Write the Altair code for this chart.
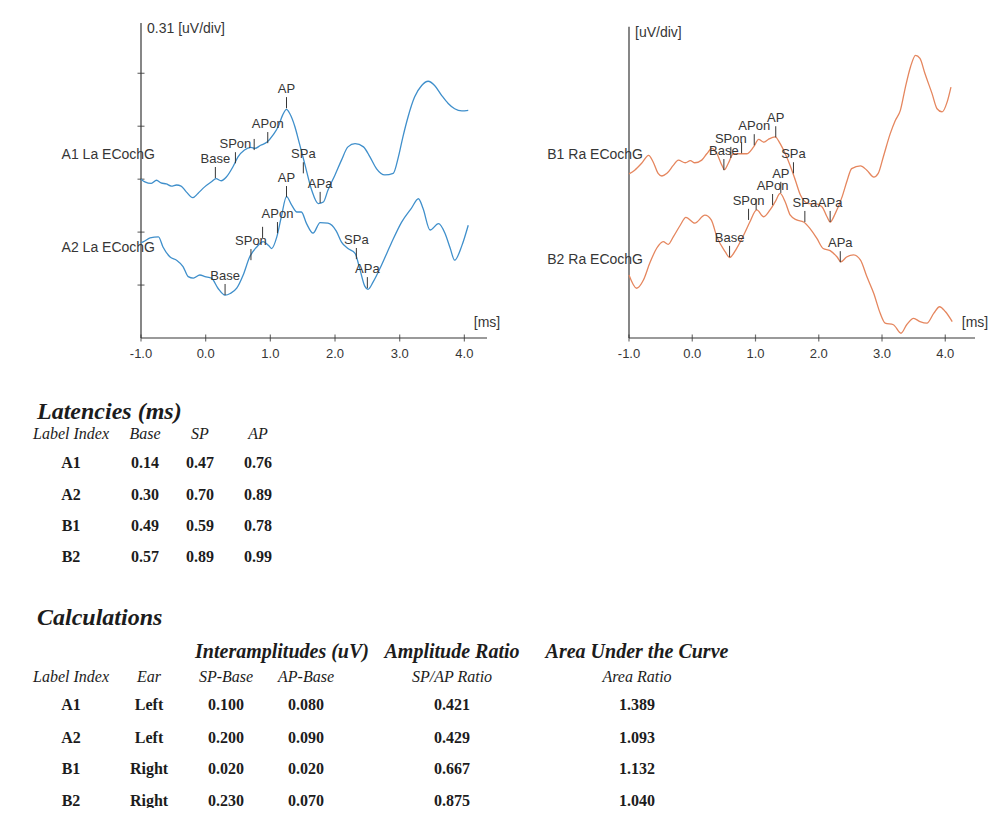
import altair as alt
import pandas as pd

# ---------------- waveform data: time (ms) and amplitude (divisions of 0.31 uV) ----------------
a1_ms = [-1.00, -0.94, -0.84, -0.76, -0.69, -0.61, -0.53, -0.45, -0.38, -0.30,
         -0.20, -0.12, -0.02, 0.09, 0.16, 0.24, 0.32, 0.42, 0.50, 0.60,
         0.70, 0.76, 0.85, 0.95, 1.04, 1.12, 1.19, 1.25, 1.30, 1.38,
         1.45, 1.53, 1.64, 1.74, 1.82, 1.89, 2.00, 2.10, 2.20, 2.31,
         2.44, 2.54, 2.64, 2.77, 2.90, 2.98, 3.05, 3.13, 3.23, 3.34,
         3.44, 3.54, 3.65, 3.75, 3.85, 3.96, 4.06]
a1_amp = [3.00, 2.95, 2.92, 2.98, 2.93, 2.91, 2.87, 2.89, 2.87, 2.76,
          2.65, 2.73, 2.85, 2.95, 3.01, 2.97, 3.04, 3.23, 3.42, 3.55,
          3.60, 3.58, 3.64, 3.70, 3.83, 3.99, 4.21, 4.32, 4.24, 3.99,
          3.67, 3.30, 2.79, 2.54, 2.57, 2.79, 3.08, 3.36, 3.61, 3.67,
          3.61, 3.42, 3.20, 3.08, 3.11, 3.42, 3.80, 4.18, 4.55, 4.77,
          4.85, 4.77, 4.58, 4.43, 4.33, 4.29, 4.30]

a2_ms = [-1.00, -0.96, -0.86, -0.73, -0.66, -0.55, -0.45, -0.35, -0.27, -0.19, -0.09,
         -0.01, 0.09, 0.19, 0.30, 0.38, 0.48, 0.58, 0.68, 0.79, 0.89,
         0.97, 1.02, 1.10, 1.17, 1.25, 1.33, 1.41, 1.48, 1.56, 1.66,
         1.77, 1.89, 2.02, 2.10, 2.20, 2.31, 2.38, 2.46, 2.51, 2.59,
         2.72, 2.87, 3.03, 3.18, 3.29, 3.36, 3.47, 3.60, 3.70, 3.78,
         3.85, 3.96, 4.06]
a2_amp = [1.80, 1.82, 1.89, 1.91, 1.72, 1.53, 1.47, 1.35, 1.16, 1.13, 1.19,
          1.16, 1.13, 0.94, 0.81, 0.84, 0.94, 1.19, 1.53, 1.72, 1.82,
          1.75, 1.69, 1.91, 2.29, 2.67, 2.51, 2.38, 2.38, 2.16, 1.98,
          2.18, 2.17, 2.02, 1.81, 1.69, 1.60, 1.32, 0.98, 0.92, 1.06,
          1.38, 1.79, 2.19, 2.45, 2.63, 2.45, 2.04, 2.16, 1.98, 1.70,
          1.47, 1.74, 2.13]

b1_ms = [-1.00, -0.91, -0.80, -0.69, -0.62, -0.54, -0.48, -0.40, -0.30, -0.22,
         -0.11, -0.03, 0.04, 0.15, 0.23, 0.31, 0.39, 0.47, 0.51, 0.57,
         0.65, 0.76, 0.86, 0.97, 1.05, 1.13, 1.20, 1.31, 1.39, 1.47,
         1.55, 1.63, 1.71, 1.84, 1.94, 2.05, 2.13, 2.18, 2.26, 2.37,
         2.45, 2.52, 2.66, 2.76, 2.87, 2.94, 3.02, 3.13, 3.21, 3.29,
         3.37, 3.45, 3.53, 3.60, 3.68, 3.79, 3.87, 3.95, 4.03, 4.09]
b1_amp = [3.10, 3.17, 3.30, 3.45, 3.33, 3.11, 3.06, 3.11, 3.26, 3.36,
          3.31, 3.35, 3.31, 3.36, 3.48, 3.58, 3.48, 3.26, 3.18, 3.30,
          3.48, 3.48, 3.48, 3.61, 3.75, 3.70, 3.75, 3.80, 3.67, 3.48,
          3.25, 2.98, 2.70, 2.54, 2.54, 2.48, 2.29, 2.19, 2.35, 2.67,
          2.98, 3.20, 3.25, 3.17, 3.04, 3.11, 3.42, 3.86, 4.11, 4.30,
          4.74, 5.12, 5.34, 5.28, 4.99, 4.62, 4.33, 4.27, 4.46, 4.74]

b2_ms = [-1.00, -0.88, -0.77, -0.67, -0.56, -0.46, -0.38, -0.30, -0.19, -0.10,
         0.04, 0.20, 0.30, 0.39, 0.52, 0.59, 0.70, 0.84, 0.91, 1.02,
         1.13, 1.23, 1.31, 1.39, 1.47, 1.55, 1.65, 1.76, 1.86, 1.97,
         2.07, 2.18, 2.29, 2.35, 2.44, 2.55, 2.66, 2.76, 2.87, 2.97,
         3.05, 3.18, 3.30, 3.39, 3.50, 3.60, 3.71, 3.82, 3.91, 4.00, 4.11]
b2_amp = [1.19, 0.94, 1.10, 1.42, 1.70, 1.82, 1.77, 1.91, 2.13, 2.28,
          2.17, 2.32, 2.23, 1.91, 1.63, 1.52, 1.69, 2.01, 2.19, 2.42,
          2.29, 2.42, 2.57, 2.73, 2.57, 2.32, 2.23, 2.19, 2.07, 1.88,
          1.69, 1.65, 1.53, 1.44, 1.53, 1.57, 1.47, 1.16, 0.84, 0.47,
          0.28, 0.25, 0.09, 0.25, 0.37, 0.31, 0.28, 0.47, 0.59, 0.50, 0.31]

# ---------------- peak markers ----------------
marker_labels = ["Base", "SPon", "", "APon", "AP", "SPa", "APa"]
a1_mk_ms = [0.15, 0.46, 0.75, 0.96, 1.25, 1.51, 1.77]
a1_mk_amp = [3.02, 3.30, 3.55, 3.68, 4.34, 3.11, 2.55]
a2_mk_ms = [0.30, 0.70, 0.88, 1.11, 1.25, 2.33, 2.50]
a2_mk_amp = [0.81, 1.47, 1.89, 1.98, 2.66, 1.49, 0.94]
b1_mk_ms = [0.50, 0.61, 0.78, 0.98, 1.32, 1.60, 2.18]
b1_mk_amp = [3.17, 3.40, 3.49, 3.64, 3.79, 3.11, 2.19]
b2_mk_ms = [0.59, 0.89, 1.01, 1.27, 1.40, 1.78, 2.34]
b2_mk_amp = [1.53, 2.23, 2.42, 2.51, 2.74, 2.19, 1.43]

trace_names = ["A1 La ECochG", "A2 La ECochG", "B1 Ra ECochG", "B2 Ra ECochG"]
trace_label_amp = [3.45, 1.70, 3.45, 1.47]

x_ticks = [-1.0, 0.0, 1.0, 2.0, 3.0, 4.0]
x_tick_labels = ["-1.0", "0.0", "1.0", "2.0", "3.0", "4.0"]
left_y_ticks = [1, 2, 3, 4, 5]

# ---------------- tables ----------------
row_ids = ["A1", "A2", "B1", "B2"]
lat_headers = ["Label Index", "Base", "SP", "AP"]
lat_base = [0.14, 0.30, 0.49, 0.57]
lat_sp = [0.47, 0.70, 0.59, 0.89]
lat_ap = [0.76, 0.89, 0.78, 0.99]

calc_group_headers = ["Interamplitudes (uV)", "Amplitude Ratio", "Area Under the Curve"]
calc_headers = ["Label Index", "Ear", "SP-Base", "AP-Base", "SP/AP Ratio", "Area Ratio"]
calc_ear = ["Left", "Left", "Right", "Right"]
calc_sp_base = [0.100, 0.200, 0.020, 0.230]
calc_ap_base = [0.080, 0.090, 0.020, 0.070]
calc_sp_ap = [0.421, 0.429, 0.667, 0.875]
calc_area = [1.389, 1.093, 1.132, 1.040]

# ---------------- styling ----------------
BLUE = "#3f8fcb"
ORANGE = "#e5865e"
INK = "#363636"
TXT = "#1c1c1c"
SANS = "Liberation Sans"
SERIF = "Liberation Serif"
TICK_LEN = 0.21  # marker tick length in divisions

layers = []


def panel(xdom, xrange, ytop, color, unit_text, traces, yticks):
    xs = alt.Scale(domain=xdom, range=xrange, nice=False, zero=False)
    ys = alt.Scale(domain=[0, 5.95], range=[330, 15], nice=False, zero=False)

    def X(f):
        return alt.X(f, type="quantitative", scale=xs, axis=None)

    def Y(f):
        return alt.Y(f, type="quantitative", scale=ys, axis=None)

    out = []
    frames, mframes, lframes = [], [], []
    for name, ms, amp, mks, mka, lab_amp in traces:
        frames.append(pd.DataFrame({"ms": ms, "amp": amp, "trace": name}))
        mframes.append(pd.DataFrame({"ms": mks, "amp": mka, "label": marker_labels, "trace": name}))
        lframes.append({"name": name, "x0": xdom[0], "amp": lab_amp})
    lines = pd.concat(frames, ignore_index=True)
    marks = pd.concat(mframes, ignore_index=True)
    marks["top"] = marks["amp"] + TICK_LEN
    labs = pd.DataFrame(lframes)
    axis_df = pd.DataFrame({"x0": [xdom[0]], "x1": [xdom[1]], "y0": [0.0], "y1": [ytop]})
    xt = pd.DataFrame({"ms": x_ticks, "lab": x_tick_labels, "y0": 0.0})

    out.append(alt.Chart(axis_df).mark_rule(color=INK, strokeWidth=1.2).encode(
        x=X("x0"), x2="x1", y=Y("y0")))
    out.append(alt.Chart(axis_df).mark_rule(color=INK, strokeWidth=1.2).encode(
        x=X("x0"), y=Y("y0"), y2="y1"))
    out.append(alt.Chart(xt).mark_tick(orient="vertical", size=7, thickness=1.2, color=INK).encode(
        x=X("ms"), y=Y("y0")))
    out.append(alt.Chart(xt).mark_text(font=SANS, fontSize=13, color=INK, dy=16, baseline="middle").encode(
        x=X("ms"), y=Y("y0"), text="lab:N"))
    if yticks:
        yt = pd.DataFrame({"amp": yticks, "x0": xdom[0]})
        out.append(alt.Chart(yt).mark_tick(orient="horizontal", size=7, thickness=1.2, color=INK).encode(
            x=X("x0"), y=Y("amp")))
    out.append(alt.Chart(axis_df).mark_text(font=SANS, fontSize=14, color=INK, align="left",
                                            baseline="top", dx=6, dy=-1, text=unit_text).encode(
        x=X("x0"), y=Y("y1")))
    out.append(alt.Chart(axis_df).mark_text(font=SANS, fontSize=14, color=INK, align="center",
                                            baseline="middle", dy=-15, text="[ms]").encode(
        x=X("x1"), y=Y("y0")))
    out.append(alt.Chart(lines).mark_line(color=color, strokeWidth=1.3, interpolate="monotone").encode(
        x=X("ms"), y=Y("amp"), detail="trace:N"))
    out.append(alt.Chart(marks).mark_rule(color=INK, strokeWidth=1).encode(
        x=X("ms"), y=Y("amp"), y2="top"))
    out.append(alt.Chart(marks).mark_text(font=SANS, fontSize=13, color=INK, baseline="bottom", dy=-1).encode(
        x=X("ms"), y=Y("top"), text="label:N"))
    out.append(alt.Chart(labs).mark_text(font=SANS, fontSize=14, color=INK, align="right",
                                         baseline="middle", dx=14).encode(
        x=X("x0"), y=Y("amp"), text="name:N"))
    return out


layers += panel([-1, 4.35], [133, 479], 5.95, BLUE, "0.31 [uV/div]",
                [(trace_names[0], a1_ms, a1_amp, a1_mk_ms, a1_mk_amp, trace_label_amp[0]),
                 (trace_names[1], a2_ms, a2_amp, a2_mk_ms, a2_mk_amp, trace_label_amp[1])],
                left_y_ticks)
layers += panel([-1, 4.47], [621, 967], 5.88, ORANGE, "[uV/div]",
                [(trace_names[2], b1_ms, b1_amp, b1_mk_ms, b1_mk_amp, trace_label_amp[2]),
                 (trace_names[3], b2_ms, b2_amp, b2_mk_ms, b2_mk_amp, trace_label_amp[3])],
                [])


def text_layer(df, xs, ys, **kw):
    return alt.Chart(df).mark_text(color=TXT, baseline="middle", **kw).encode(
        x=alt.X("col:Q", scale=xs, axis=None),
        y=alt.Y("row:Q", scale=ys, axis=None),
        text="text:N")


# Latencies table (col -1 / row -1 = title anchor)
lat_xs = alt.Scale(domain=[-1, 0, 1, 2, 3], range=[29, 63, 137, 192, 250], nice=False, zero=False)
lat_ys = alt.Scale(domain=[-1, 0, 1, 2, 3, 4], range=[404, 426, 455, 487, 518, 549], nice=False, zero=False)
lat_title = pd.DataFrame({"col": [-1], "row": [-1], "text": ["Latencies (ms)"]})
lat_head = pd.DataFrame({"col": [0, 1, 2, 3], "row": 0, "text": lat_headers})
lat_cells = []
for i, rid in enumerate(row_ids):
    vals = [rid, f"{lat_base[i]:.2f}", f"{lat_sp[i]:.2f}", f"{lat_ap[i]:.2f}"]
    for c, v in enumerate(vals):
        lat_cells.append({"col": c, "row": i + 1, "text": v})
lat_cells = pd.DataFrame(lat_cells)
layers.append(text_layer(lat_title, lat_xs, lat_ys, font=SERIF, fontSize=24, fontWeight="bold",
                         fontStyle="italic", align="left"))
layers.append(text_layer(lat_head, lat_xs, lat_ys, font=SERIF, fontSize=16, fontStyle="italic", align="center"))
layers.append(text_layer(lat_cells, lat_xs, lat_ys, font=SERIF, fontSize=16, fontWeight="bold", align="center"))

# Calculations table
calc_xs = alt.Scale(domain=[-1, 0, 1, 2, 3, 4, 5], range=[29, 63, 141, 218, 298, 444, 629], nice=False, zero=False)
calc_ys = alt.Scale(domain=[-1, 0, 1, 2, 3, 4, 5], range=[610, 644, 669, 697, 730, 761, 793], nice=False, zero=False)
calc_title = pd.DataFrame({"col": [-1], "row": [-1], "text": ["Calculations"]})
calc_group = pd.DataFrame({"col": [2.7, 4, 5], "row": 0, "text": calc_group_headers})
calc_head = pd.DataFrame({"col": [0, 1, 2, 3, 4, 5], "row": 1, "text": calc_headers})
calc_cells = []
for i, rid in enumerate(row_ids):
    vals = [rid, calc_ear[i], f"{calc_sp_base[i]:.3f}", f"{calc_ap_base[i]:.3f}",
            f"{calc_sp_ap[i]:.3f}", f"{calc_area[i]:.3f}"]
    for c, v in enumerate(vals):
        calc_cells.append({"col": c, "row": i + 2, "text": v})
calc_cells = pd.DataFrame(calc_cells)
layers.append(text_layer(calc_title, calc_xs, calc_ys, font=SERIF, fontSize=24, fontWeight="bold",
                         fontStyle="italic", align="left"))
layers.append(text_layer(calc_group, calc_xs, calc_ys, font=SERIF, fontSize=20, fontWeight="bold",
                         fontStyle="italic", align="center"))
layers.append(text_layer(calc_head, calc_xs, calc_ys, font=SERIF, fontSize=16, fontStyle="italic", align="center"))
layers.append(text_layer(calc_cells, calc_xs, calc_ys, font=SERIF, fontSize=16, fontWeight="bold", align="center"))

chart = alt.layer(*layers).resolve_scale(x="independent", y="independent").properties(
    width=984, height=800, padding=0, background="white",
    autosize=alt.AutoSizeParams(type="none"),
).configure_view(stroke=None)

chart.save("out.html", embed_options={"renderer": "svg", "actions": False})
